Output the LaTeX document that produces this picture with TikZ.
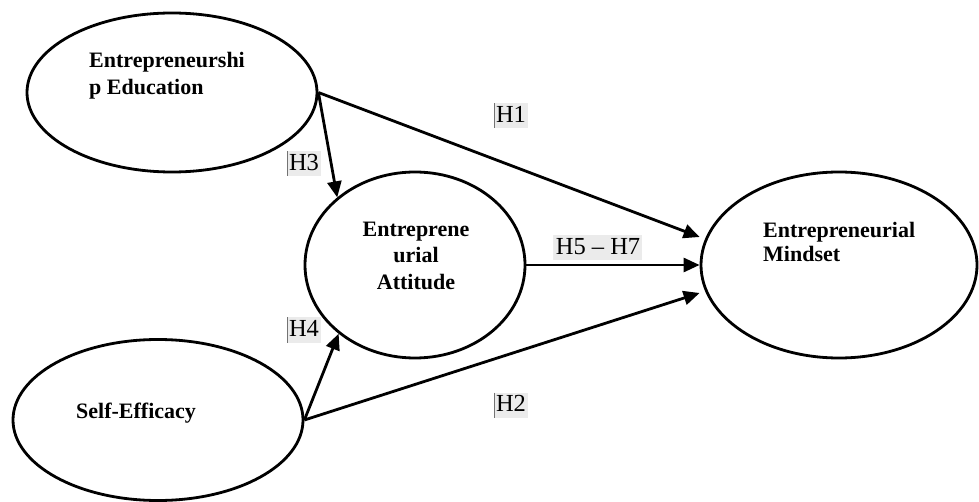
\documentclass[tikz,border=0pt]{standalone}
\usepackage{fontspec}
\setmainfont{Liberation Serif}
\usetikzlibrary{shapes.geometric,arrows.meta}
\begin{document}
\begin{tikzpicture}[x=1pt,y=-1pt,
 construct/.style={ellipse,draw,line width=2.8pt,inner sep=0pt},
 ctext/.style={font=\fontsize{22}{26}\selectfont\bfseries,inner sep=0pt},
 hyp/.style={font=\fontsize{24.5}{26}\selectfont, fill=black!8, inner xsep=2pt, inner ysep=0pt,
   text height=19pt, text depth=6pt,
   path picture={\draw[black!55,line width=1.3pt] (path picture bounding box.north west) -- (path picture bounding box.south west);}},
 arr/.style={line width=2.8pt,-{Triangle[length=16pt,width=14pt]}}]
\useasboundingbox (0,0) rectangle (979,502);
% constructs
\node[construct,minimum width=290pt,minimum height=159pt] (edu) at (172,92.5) {};
\node[construct,minimum width=220pt,minimum height=186pt] (att) at (415,265) {};
\node[construct,minimum width=290pt,minimum height=161pt] (se) at (158,420) {};
\node[construct,minimum width=276pt,minimum height=186pt] (mind) at (839,265) {};
% texts
\node[ctext,anchor=base west] (edu1) at (89,68) {Entrepreneurshi};
\node[ctext,anchor=base west] (edu2) at (89,95) {p Education};
\node[ctext,anchor=base] (att1) at (416,237) {Entreprene};
\node[ctext,anchor=base] (att2) at (416,263) {urial};
\node[ctext,anchor=base] (att3) at (416,290) {Attitude};
\node[ctext,anchor=base west] (se1) at (76,418) {Self-Efficacy};
\node[ctext,anchor=base west] (m1) at (763,238) {Entrepreneurial};
\node[ctext,anchor=base west] (m2) at (763,262) {Mindset};
% connectors
\draw[arr] (edu.east) -- ([yshift=28pt]mind.west);
\draw[arr] (edu.east) -- (att.139);
\draw[arr] (se.east) -- (att.222);
\draw[arr] (se.east) -- ([yshift=-28pt]mind.west);
\draw[arr] (att.east) -- (mind.west);
% hypothesis labels
\node[hyp] (h1) at (511,116) {H1};
\node[hyp] (h3) at (304,164) {H3};
\node[hyp] (h4) at (304,330) {H4};
\node[hyp] (h2) at (511,405) {H2};
\node[hyp] (h57) at (598,248) {H5 – H7};
\end{tikzpicture}
\end{document}
